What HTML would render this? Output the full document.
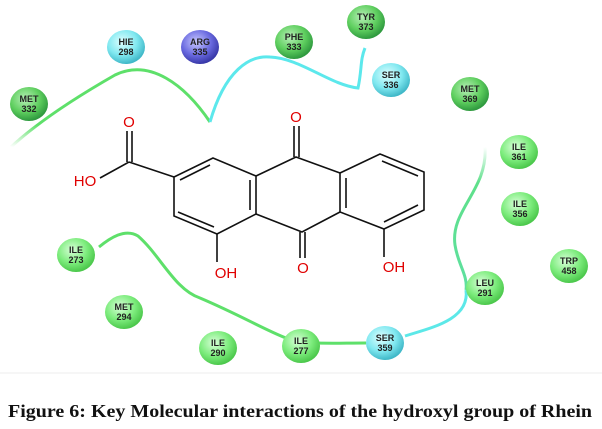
<!DOCTYPE html>
<html><head><meta charset="utf-8"><style>
html,body{margin:0;padding:0;background:#fff;}
svg{display:block;}
.lbl{font-family:"Liberation Sans",sans-serif;font-size:9px;font-weight:bold;fill:#222;text-anchor:middle;}
.at{font-family:"Liberation Sans",sans-serif;font-size:15px;fill:#e00000;text-anchor:middle;}
</style></head><body>
<svg width="602" height="429" viewBox="0 0 602 429" xmlns="http://www.w3.org/2000/svg">
<defs>
<radialGradient id="g" cx="40%" cy="35%" r="65%"><stop offset="0" stop-color="#d8ffd8"/><stop offset="0.6" stop-color="#7cec7c"/><stop offset="1" stop-color="#4cc84c"/></radialGradient>
<radialGradient id="dg" cx="40%" cy="35%" r="65%"><stop offset="0" stop-color="#b8f0b8"/><stop offset="0.6" stop-color="#5fcf5f"/><stop offset="1" stop-color="#2f9a3f"/></radialGradient>
<radialGradient id="c" cx="40%" cy="35%" r="65%"><stop offset="0" stop-color="#e0ffff"/><stop offset="0.6" stop-color="#80e8f0"/><stop offset="1" stop-color="#40b8c8"/></radialGradient>
<radialGradient id="b" cx="40%" cy="35%" r="65%"><stop offset="0" stop-color="#c8c8ff"/><stop offset="0.6" stop-color="#6a6ae0"/><stop offset="1" stop-color="#3838a8"/></radialGradient>
<linearGradient id="fade" x1="0" y1="1" x2="0.3" y2="0"><stop offset="0" stop-color="#5ee06a" stop-opacity="0"/><stop offset="0.3" stop-color="#5ee06a"/></linearGradient>
<linearGradient id="fade2" x1="0" y1="0" x2="0" y2="1"><stop offset="0" stop-color="#5ee08a" stop-opacity="0"/><stop offset="0.25" stop-color="#5ee08a"/><stop offset="1" stop-color="#5ee0a0"/></linearGradient>
</defs>
<!-- curves -->
<path d="M11,147 C40,120 80,95 115,75 C150,58 185,85 210,122" fill="none" stroke="url(#fade)" stroke-width="3"/>
<path d="M210,122 C225,70 250,55 270,57 C300,58 330,85 358,88 C362,70 360,60 365,48" fill="none" stroke="#5ce8ec" stroke-width="3"/>
<path d="M485,147 C488,190 450,210 455,245 C458,265 468,275 466,290" fill="none" stroke="url(#fade2)" stroke-width="3"/>
<path d="M466,290 C470,320 430,328 405,336" fill="none" stroke="#5ce8e8" stroke-width="3"/>
<path d="M99,247 C110,238 125,228 138,236 C160,255 175,290 200,298 C240,315 265,330 286,338 C305,345 330,343 366,343" fill="none" stroke="#5ee06a" stroke-width="3"/>
<!-- molecule -->
<g stroke="#111" stroke-width="1.6" fill="none">
<path d="M213,158 L174,177 L174,216 L217,234 L256,214 L256,176 Z"/>
<path d="M210,165 L180,180 M178,212 L214,227 M250,180 L250,210"/>
<path d="M256,176 L296,157 L340,173 M256,214 L302,232 L340,212"/>
<path d="M340,173 L380,154 L424,172 L424,210 L384,229 L340,212 Z"/>
<path d="M346,178 L346,208 M382,161 L418,176 M384,222 L418,205"/>
<path d="M294,157 L294,126 M299,157 L299,126"/>
<path d="M300,232 L300,258 M305,232 L305,258"/>
<path d="M174,177 L129,162 M127,162 L127,131 M132,162 L132,131 M129,162 L100,178"/>
<path d="M217,234 L217,262 M384,229 L384,257"/>
</g>
<text class="at" x="296" y="122">O</text>
<text class="at" x="303" y="273">O</text>
<text class="at" x="129" y="127">O</text>
<text class="at" x="85" y="186">HO</text>
<text class="at" x="226" y="278">OH</text>
<text class="at" x="394" y="272">OH</text>
<!-- residues -->
<g>
<ellipse cx="126" cy="47" rx="19" ry="17" fill="url(#c)"/><text class="lbl" x="126" y="45">HIE</text><text class="lbl" x="126" y="55">298</text>
<ellipse cx="200" cy="47" rx="19" ry="17" fill="url(#b)"/><text class="lbl" x="200" y="45">ARG</text><text class="lbl" x="200" y="55">335</text>
<ellipse cx="294" cy="42" rx="19" ry="17" fill="url(#dg)"/><text class="lbl" x="294" y="40">PHE</text><text class="lbl" x="294" y="50">333</text>
<ellipse cx="366" cy="22" rx="19" ry="17" fill="url(#dg)"/><text class="lbl" x="366" y="20">TYR</text><text class="lbl" x="366" y="30">373</text>
<ellipse cx="391" cy="80" rx="19" ry="17" fill="url(#c)"/><text class="lbl" x="391" y="78">SER</text><text class="lbl" x="391" y="88">336</text>
<ellipse cx="470" cy="94" rx="19" ry="17" fill="url(#dg)"/><text class="lbl" x="470" y="92">MET</text><text class="lbl" x="470" y="102">369</text>
<ellipse cx="29" cy="104" rx="19" ry="17" fill="url(#dg)"/><text class="lbl" x="29" y="102">MET</text><text class="lbl" x="29" y="112">332</text>
<ellipse cx="519" cy="152" rx="19" ry="17" fill="url(#g)"/><text class="lbl" x="519" y="150">ILE</text><text class="lbl" x="519" y="160">361</text>
<ellipse cx="520" cy="209" rx="19" ry="17" fill="url(#g)"/><text class="lbl" x="520" y="207">ILE</text><text class="lbl" x="520" y="217">356</text>
<ellipse cx="569" cy="266" rx="19" ry="17" fill="url(#g)"/><text class="lbl" x="569" y="264">TRP</text><text class="lbl" x="569" y="274">458</text>
<ellipse cx="485" cy="288" rx="19" ry="17" fill="url(#g)"/><text class="lbl" x="485" y="286">LEU</text><text class="lbl" x="485" y="296">291</text>
<ellipse cx="385" cy="343" rx="19" ry="17" fill="url(#c)"/><text class="lbl" x="385" y="341">SER</text><text class="lbl" x="385" y="351">359</text>
<ellipse cx="301" cy="346" rx="19" ry="17" fill="url(#g)"/><text class="lbl" x="301" y="344">ILE</text><text class="lbl" x="301" y="354">277</text>
<ellipse cx="218" cy="348" rx="19" ry="17" fill="url(#g)"/><text class="lbl" x="218" y="346">ILE</text><text class="lbl" x="218" y="356">290</text>
<ellipse cx="124" cy="312" rx="19" ry="17" fill="url(#g)"/><text class="lbl" x="124" y="310">MET</text><text class="lbl" x="124" y="320">294</text>
<ellipse cx="76" cy="255" rx="19" ry="17" fill="url(#g)"/><text class="lbl" x="76" y="253">ILE</text><text class="lbl" x="76" y="263">273</text>
</g>
<line x1="0" y1="373" x2="602" y2="373" stroke="#eee" stroke-width="1"/>
<text x="300" y="417" font-family="'Liberation Serif',serif" font-weight="bold" font-size="18" text-anchor="middle" textLength="584" lengthAdjust="spacingAndGlyphs" fill="#111">Figure 6: Key Molecular interactions of the hydroxyl group of Rhein</text>
</svg>
</body></html>
